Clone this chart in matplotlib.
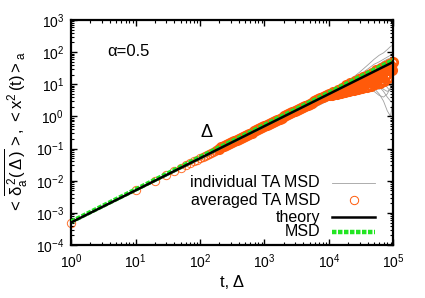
import matplotlib
matplotlib.use("Agg")
import matplotlib.pyplot as plt

plt.rcParams['font.family'] = ['Liberation Sans', 'DejaVu Sans']
plt.rcParams['mathtext.fontset'] = 'custom'
plt.rcParams['mathtext.rm'] = 'Liberation Sans'
plt.rcParams['mathtext.it'] = 'Liberation Sans'
plt.rcParams['mathtext.bf'] = 'Liberation Sans:bold'
plt.rcParams['mathtext.default'] = 'rm'
plt.rcParams['axes.unicode_minus'] = False

# ---------------- data ----------------
theory_t = [1, 100000]
theory_y = [5e-4, 50]

msd_t = [1, 10, 100, 1000, 10000, 100000]
msd_y = [5.3e-4, 5.3e-3, 5.4e-2, 0.54, 5.5, 57]

avg_lag_early = [1, 10, 20, 30, 40, 50, 60, 70, 80, 90, 100, 110, 120, 130, 140,
                 150, 160, 170, 180, 190]
avg_val_early = [0.0005, 0.005, 0.01, 0.015, 0.02, 0.025, 0.03, 0.035, 0.04, 0.045,
                 0.05, 0.055, 0.06, 0.065, 0.07, 0.075, 0.08, 0.085, 0.09, 0.095]
avg_lag_mid = [200, 215, 233, 251, 271, 293, 316, 341, 369, 398, 430, 464, 501, 541,
               584, 631, 681, 736, 794, 858, 926,
               1000, 1080, 1166, 1259, 1359, 1468, 1585, 1711, 1848, 1995, 2154, 2326,
               2512, 2712, 2929, 3162, 3415, 3687, 3981, 4299, 4642, 5012, 5412, 5843,
               6310, 6813, 7356, 7943, 8577, 9261]
avg_val_mid = [0.1, 0.108, 0.117, 0.126, 0.136, 0.147, 0.158, 0.171, 0.185, 0.199,
               0.215, 0.232, 0.251, 0.271, 0.292, 0.316, 0.341, 0.368, 0.397, 0.429, 0.463,
               0.5, 0.54, 0.583, 0.63, 0.68, 0.734, 0.793, 0.856, 0.924, 0.998,
               1.08, 1.16, 1.26, 1.36, 1.46, 1.58, 1.71, 1.84, 1.99, 2.15,
               2.32, 2.51, 2.71, 2.92, 3.16, 3.41, 3.68, 3.97, 4.29, 4.63]
avg_lag_late = [10000, 10391, 10797, 11220, 11659, 12115, 12589, 13082, 13594, 14125,
                14678, 15252, 15849, 16469, 17113, 17783, 18478, 19201, 19953, 20734,
                21544, 22387, 23263, 24173, 25119, 26102, 27123, 28184, 29286, 30432,
                31623, 32860, 34145, 35481, 36869, 38312, 39811, 41370, 42987, 44668,
                46416, 48232, 50119, 52080, 54117, 56234, 58434, 60719, 63096, 65564,
                68129, 70795, 73564, 76443, 79433, 82540, 85770, 89125, 92611, 96235,
                100000]
avg_val_late = [5.00, 4.75, 5.13, 4.72, 5.83, 5.26, 5.83, 5.10, 6.80, 5.82,
                6.63, 5.50, 7.92, 6.42, 7.51, 5.83, 9.24, 7.01, 8.47, 6.16,
                10.77, 7.63, 9.56, 6.50, 12.56, 8.37, 10.82, 6.98, 14.64, 9.25,
                12.30, 7.54, 17.07, 10.25, 13.99, 8.14, 19.91, 11.40, 15.97, 8.95,
                23.21, 12.83, 18.29, 9.87, 27.06, 14.43, 20.95, 10.93, 31.55, 16.36,
                24.18, 12.57, 36.78, 19.07, 28.20, 16.14, 42.89, 26.96, 37.37, 27.57,
                50.0]

ind_t = [1, 1000, 3000, 6000, 10000, 15000, 20000, 25000, 30000, 40000, 50000,
         60000, 70000, 80000, 90000, 100000]
ind_1 = [5e-4, 0.5, 1.55, 3.2, 5.6, 8.8, 13, 18, 24, 40, 60, 80, 95, 120, 150, 170]
ind_2 = [5e-4, 0.5, 1.55, 3.2, 5.5, 8.5, 12, 16, 20, 30, 42, 50, 60, 70, 80, 90]
ind_3 = [5e-4, 0.5, 1.5, 3.1, 5.3, 8.2, 11.5, 14.5, 18, 26, 34, 42, 52, 60, 66, 70]
ind_4 = [5e-4, 0.5, 1.5, 3.05, 5.2, 7.9, 10.8, 13.5, 16.5, 22, 28, 34, 40, 46, 52, 58]
ind_5 = [5e-4, 0.5, 1.5, 3.0, 5.0, 7.5, 10, 12, 14, 17, 20, 24, 28, 34, 40, 48]
ind_6 = [5e-4, 0.48, 1.4, 2.8, 4.6, 6.8, 8.8, 10.3, 11.8, 13, 14, 15, 18, 24, 30, 40]
ind_7 = [5e-4, 0.47, 1.3, 2.5, 4.1, 6.0, 7.8, 9.0, 9.6, 9.3, 8, 7, 8, 11, 18, 30]
ind_8 = [5e-4, 0.42, 1.0, 1.9, 3.2, 4.8, 6.3, 7.4, 8.0, 7.5, 6, 4.5, 4, 5, 8, 15]
ind_9 = [5e-4, 0.46, 1.25, 2.5, 4.2, 6.2, 8.0, 9.5, 10.5, 10, 7.5, 5, 3, 1.5, 1.0, 4]
ind_10 = [5e-4, 0.48, 1.4, 2.75, 4.5, 6.8, 9.0, 11, 12.5, 13.5, 12, 9, 7, 6, 7, 12]
ind_11 = [5e-4, 0.5, 1.5, 3.0, 5.1, 7.6, 10.2, 12.8, 15, 18, 18, 16, 13, 10, 9, 20]
ind_12 = [5e-4, 0.5, 1.5, 3.05, 5.2, 7.8, 10.6, 13.3, 16, 20, 23, 24, 22, 20, 22, 30]
ind_13 = [5e-4, 0.44, 1.1, 2.1, 3.5, 5.2, 6.8, 8.2, 9.4, 10.5, 10, 8.5, 6, 4, 3, 2.5]
ind_14 = [5e-4, 0.47, 1.3, 2.6, 4.3, 6.4, 8.5, 10.5, 12, 14.5, 15.5, 14, 11, 8, 6, 6]
ind_15 = [5e-4, 0.5, 1.5, 3.1, 5.4, 8.3, 11.5, 14.5, 17.5, 24, 30, 36, 40, 38, 35, 38]
individual = [ind_1, ind_2, ind_3, ind_4, ind_5, ind_6, ind_7, ind_8, ind_9, ind_10,
              ind_11, ind_12, ind_13, ind_14, ind_15]

labels = ["individual TA MSD", "averaged TA MSD", "theory", "MSD"]

# ---------------- figure ----------------
fig = plt.figure(figsize=(4.25, 2.98), dpi=100)
ax = fig.add_axes([71 / 425, 1 - 245 / 298, 322.5 / 425, 225 / 298])

gray = '#a0a0a0'
orange = '#ff5a0a'
green = '#22e622'
ms = 6.0

for ys in individual:
    ax.plot(ind_t, ys, color=gray, lw=0.6, zorder=1)

# sparse early lags: thin rings; dense lags overlap into a solid band
ax.plot(avg_lag_early, avg_val_early, ls='none', marker='o', ms=ms, mfc='none',
        mec=orange, mew=0.7, zorder=2, clip_on=False, alpha=0.85)
ax.plot(avg_lag_mid + avg_lag_late, avg_val_mid + avg_val_late, ls='none', marker='o',
        ms=ms, mfc='none', mec=orange, mew=2.0, zorder=2, clip_on=False)

ax.plot(msd_t, msd_y, color=green, lw=3.2, dashes=(1.0, 0.35), zorder=3,
        dash_capstyle='butt')
ax.plot(theory_t, theory_y, color='black', lw=1.8, zorder=4)

ax.set_xscale('log')
ax.set_yscale('log')
ax.set_xlim(1, 1e5)
ax.set_ylim(1e-4, 1e3)

for s in ax.spines.values():
    s.set_linewidth(1.6)
ax.tick_params(which='both', direction='in', top=True, right=True, labelsize=10)
ax.tick_params(which='major', length=4, width=1.0, pad=5)
ax.tick_params(which='minor', length=2, width=0.8)

ax.set_xlabel('t, Δ', fontsize=12, labelpad=3)
ax.set_ylabel(r'$<\,\overline{\delta_a^{\,2}(\,\Delta\,)}\,>$, $<x^2\,(t)>_a$',
              fontsize=12, labelpad=4)

ax.text(0.112, 0.858, 'α=0.5', transform=ax.transAxes, fontsize=12,
        ha='left', va='center')
ax.text(0.419, 0.498, 'Δ', transform=ax.transAxes, fontsize=13,
        ha='center', va='center')

# gnuplot-style key: right-justified text, sample to the right
key_rows = [0.276, 0.200, 0.124, 0.058]
text_x = 0.772
h0, h1 = 0.809, 0.943
for lab, yy in zip(labels, key_rows):
    ax.text(text_x, yy, lab, transform=ax.transAxes, fontsize=11.5,
            ha='right', va='center', zorder=6)
ax.plot([h0, h1], [key_rows[0]] * 2, transform=ax.transAxes, color=gray, lw=0.6,
        zorder=6)
ax.plot([(h0 + h1) / 2], [key_rows[1]], transform=ax.transAxes, ls='none', marker='o',
        ms=ms, mfc='none', mec=orange, mew=0.7, zorder=6)
ax.plot([h0, h1], [key_rows[2]] * 2, transform=ax.transAxes, color='black', lw=1.8,
        zorder=6)
ax.plot([h0, h1], [key_rows[3]] * 2, transform=ax.transAxes, color=green, lw=3.2,
        dashes=(1.0, 0.35), zorder=6)

fig.savefig('out.png', dpi=100)
